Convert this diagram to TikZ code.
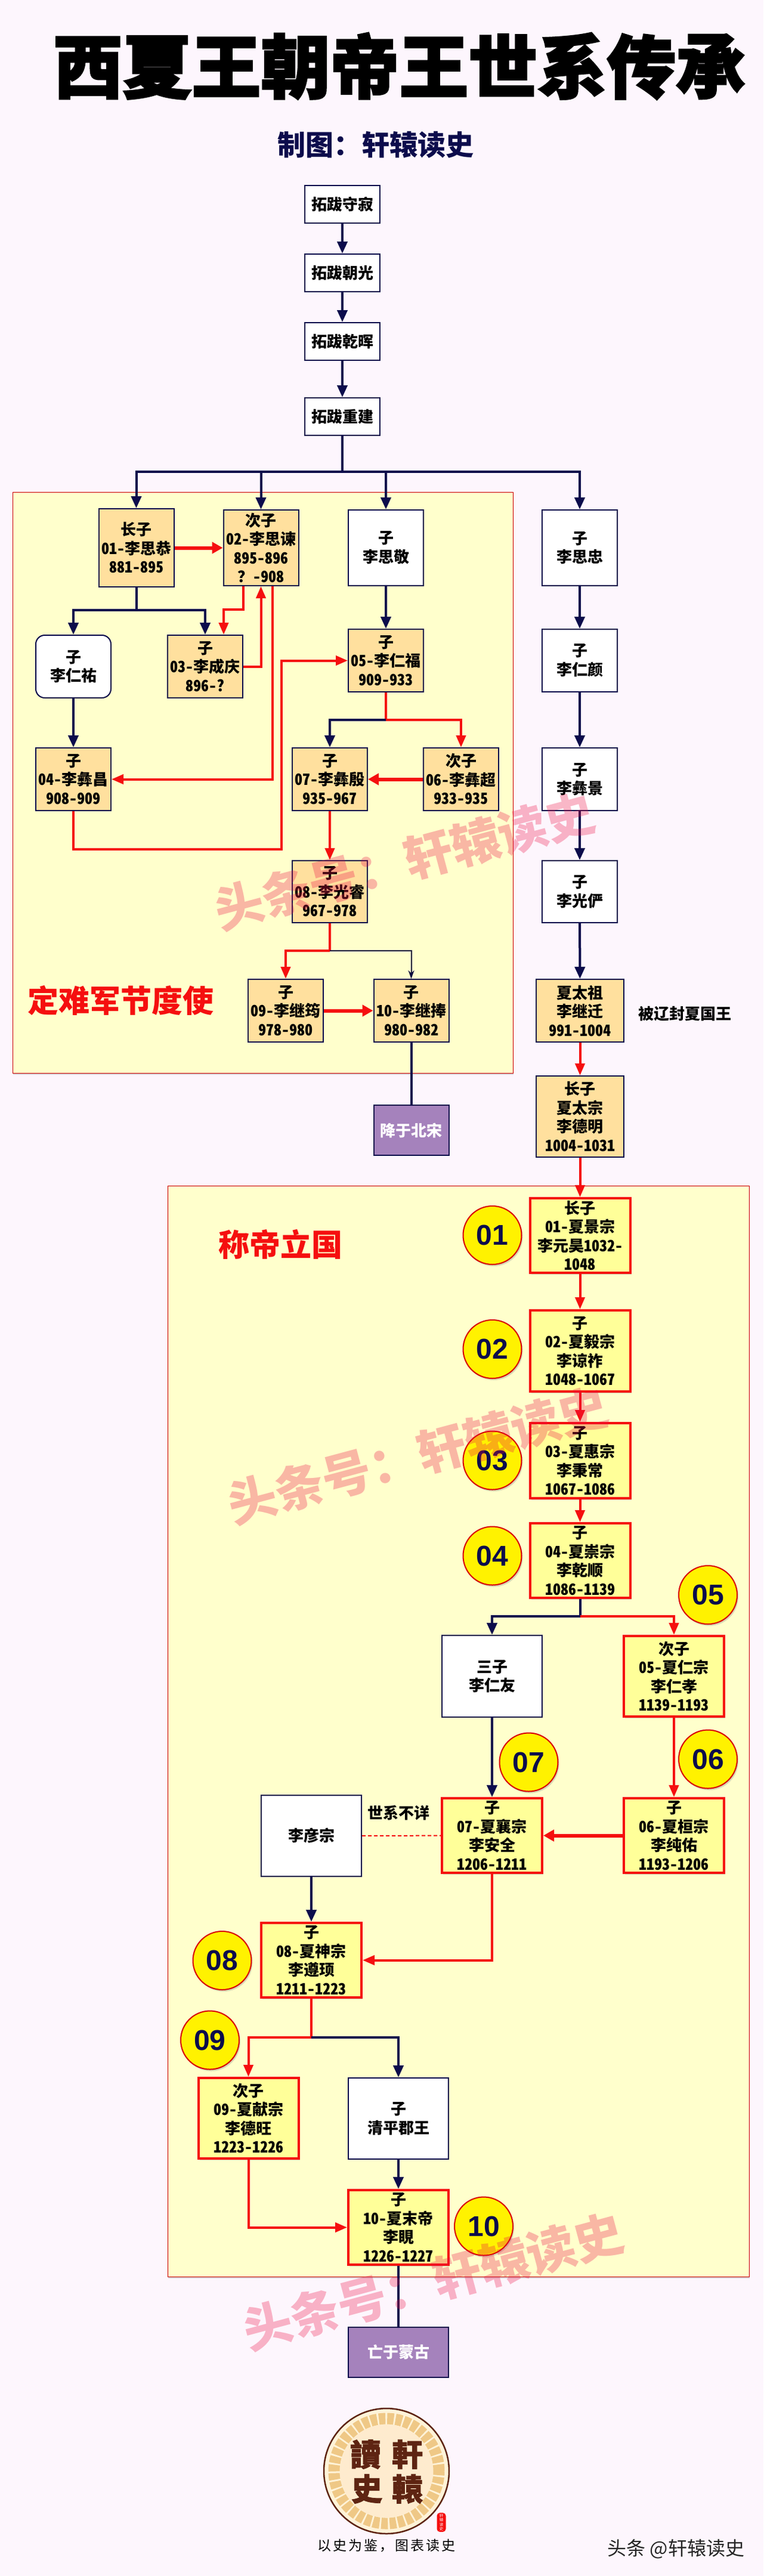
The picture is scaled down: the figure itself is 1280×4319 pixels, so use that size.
\documentclass[tikz,border=0pt]{standalone}
\usepackage{fontspec}
\setmainfont{Noto Sans CJK SC}
\newfontfamily\boxfont[RawFeature=+hwid]{Noto Sans CJK SC}
\newfontfamily\titlefont[BoldFeatures={FakeBold=2.5}]{Noto Sans CJK SC}
\newfontfamily\numfont{Liberation Sans}
\newfontfamily\oldfont[BoldFeatures={FakeBold=1.5}]{Noto Sans CJK TC}
\usepackage{tikz}
\usetikzlibrary{arrows.meta}
\usetikzlibrary{shadows}
\definecolor{pagec}{HTML}{FDF6FD}
\definecolor{panelc}{HTML}{FFFFCC}
\definecolor{lordc}{HTML}{FFE09E}
\definecolor{empc}{HTML}{FFFF99}
\definecolor{navyc}{HTML}{0C0C4C}
\definecolor{purplec}{HTML}{A582BC}
\definecolor{redc}{HTML}{F50F0F}
\definecolor{brownc}{HTML}{5E2412}
\tikzstyle{lbl}=[inner sep=0pt, font=\boxfont\bfseries\fontsize{26}{31.5}\selectfont, align=center]
\tikzstyle{bx}=[lbl, rectangle, draw=navyc, line width=2pt, minimum width=126pt]
\tikzstyle{kin}=[bx, fill=white]
\tikzstyle{lord}=[bx, fill=lordc]
\tikzstyle{emp}=[bx, draw=redc, line width=4pt, minimum width=168pt, fill=empc, drop shadow={shadow xshift=2pt, shadow yshift=-3pt, opacity=0.3}]
\tikzstyle{endbox}=[bx, fill=purplec, text=white]
\tikzstyle{panel}=[rectangle, draw=red!80!black, line width=1pt, fill=panelc, drop shadow={shadow xshift=1pt, shadow yshift=-3pt, opacity=0.3}]
\tikzstyle{num}=[circle, draw=red!85!black, line width=2pt, fill=yellow, text=navyc, inner sep=0pt, minimum size=98pt, font=\numfont\bfseries\fontsize{48}{48}\selectfont, drop shadow={shadow xshift=2pt, shadow yshift=-3pt, opacity=0.3}]
\tikzstyle{head}=[inner sep=0pt, text=redc, font=\bfseries\fontsize{52}{52}\selectfont]
\tikzstyle{wmark}=[inner sep=0pt, rotate=15, text=magenta!35!red, text opacity=0.3, font=\bfseries\fontsize{82}{82}\selectfont]
\tikzstyle{seal}=[inner sep=0pt, text=brownc, font=\oldfont\bfseries\fontsize{52}{52}\selectfont]
\tikzstyle{navy}=[draw=navyc, line width=4pt, -{Triangle[length=20pt, width=17pt]}]
\tikzstyle{navyline}=[draw=navyc, line width=4pt]
\tikzstyle{blood}=[draw=redc, line width=4pt, -{Triangle[length=20pt, width=16pt]}]
\tikzstyle{bloodline}=[draw=redc, line width=4pt]
\tikzstyle{pass}=[draw=redc, line width=6pt, -{Triangle[length=18pt, width=19pt]}]
\tikzset{high/.style={minimum height=#1pt}}
\begin{document}
\begin{tikzpicture}[x=1pt, y=-1pt]
	\useasboundingbox (0,0) rectangle (1280,4319);
	\fill[pagec] (0,0) rectangle (1280,4319);
	
	%The titles
	\draw (669.5,111) node[inner sep=0pt, font=\titlefont\bfseries\fontsize{116}{116}\selectfont] (title) {西夏王朝帝王世系传承};
	\draw (630,243) node[inner sep=0pt, text=navyc, font=\bfseries\fontsize{47}{47}\selectfont] (credit) {制图：轩辕读史};
	
	%The two panels
	\draw (440.5,1312) node[panel, minimum width=839pt, minimum height=974pt] (panelA) {};
	\draw (768.5,2902.5) node[panel, minimum width=975pt, minimum height=1829pt] (panelB) {};
	\draw (202,1677) node[head] (headA) {定难军节度使};
	\draw (470.5,2086) node[head] (headB) {称帝立国};
	
	%The Tuoba forefathers
	\draw (574,342.5) node[kin, high=63] (zu1) {拓跋守寂};
	\draw (574,457.5) node[kin, high=63] (zu2) {拓跋朝光};
	\draw (574,572.5) node[kin, high=63] (zu3) {拓跋乾晖};
	\draw (574,698.5) node[kin, high=63] (zu4) {拓跋重建};
	
	%The military governors
	\draw (228.5,918.5) node[lord, high=131] (gov1) {长子\\01-李思恭\\881-895};
	\draw (437.5,918.5) node[lord, high=127] (gov2) {次子\\02-李思谏\\895-896\\？-908};
	\draw (344,1117.5) node[lord, high=105] (gov3) {子\\03-李成庆\\896-?};
	\draw (123,1306.5) node[lord, high=105] (gov4) {子\\04-李彝昌\\908-909};
	\draw (647,1107.5) node[lord, high=105] (gov5) {子\\05-李仁福\\909-933};
	\draw (773,1306.5) node[lord, high=105] (gov6) {次子\\06-李彝超\\933-935};
	\draw (553,1306.5) node[lord, high=105] (gov7) {子\\07-李彝殷\\935-967};
	\draw (553,1495) node[lord, high=104] (gov8) {子\\08-李光睿\\967-978};
	\draw (479,1694.5) node[lord, high=105] (gov9) {子\\09-李继筠\\978-980};
	\draw (689.5,1694.5) node[lord, high=105] (gov10) {子\\10-李继捧\\980-982};
	\draw (689.5,1895) node[endbox, high=84] (song) {降于北宋};
	
	%The sons who did not rule
	\draw (123,1117.5) node[kin, rounded corners=15pt, high=105] (youren) {子\\李仁祐};
	\draw (647,918.5) node[kin, high=127] (sijing) {子\\李思敬};
	\draw (972,918.5) node[kin, high=127] (sizhong) {子\\李思忠};
	\draw (972,1107.5) node[kin, high=105] (renyan) {子\\李仁颜};
	\draw (972,1306.5) node[kin, high=105] (yijing) {子\\李彝景};
	\draw (972,1495) node[kin, high=104] (guangyan) {子\\李光俨};
	
	%The founders
	\draw (972.5,1694.5) node[lord, minimum width=147pt, high=105] (taizu) {夏太祖\\李继迁\\991-1004};
	\draw (972.5,1872) node[lord, minimum width=147pt, high=136] (taizong) {长子\\夏太宗\\李德明\\1004-1031};
	\draw (1148,1700) node[lbl] (liao) {被辽封夏国王};
	
	%The emperors
	\draw (972.5,2071.5) node[emp, high=125] (emp1) {长子\\01-夏景宗\\李元昊1032-\\1048};
	\draw (972.5,2265) node[emp, high=136] (emp2) {子\\02-夏毅宗\\李谅祚\\1048-1067};
	\draw (972.5,2449) node[emp, high=126] (emp3) {子\\03-夏惠宗\\李秉常\\1067-1086};
	\draw (972.5,2616.5) node[emp, high=125] (emp4) {子\\04-夏崇宗\\李乾顺\\1086-1139};
	\draw (1130,2810.5) node[emp, high=135] (emp5) {次子\\05-夏仁宗\\李仁孝\\1139-1193};
	\draw (1130,3077.5) node[emp, high=125] (emp6) {子\\06-夏桓宗\\李纯佑\\1193-1206};
	\draw (825,3077.5) node[emp, high=125] (emp7) {子\\07-夏襄宗\\李安全\\1206-1211};
	\draw (522,3286.5) node[emp, high=125] (emp8) {子\\08-夏神宗\\李遵顼\\1211-1223};
	\draw (416.5,3551.5) node[emp, high=135] (emp9) {次子\\09-夏献宗\\李德旺\\1223-1226};
	\draw (668,3734.5) node[emp, high=125] (emp10) {子\\10-夏末帝\\李睍\\1226-1227};
	\draw (825,2810.5) node[kin, minimum width=168pt, high=137] (renyou) {三子\\李仁友};
	\draw (522,3078) node[kin, minimum width=168pt, high=136] (yanzong) {李彦宗};
	\draw (668,3552) node[kin, minimum width=168pt, high=136] (qingping) {子\\清平郡王};
	\draw (668,3944) node[endbox, minimum width=168pt, high=84] (meng) {亡于蒙古};
	\draw (668,3039) node[lbl] (unknown) {世系不详};
	
	%The reign numbers
	\draw (825.5,2071) node[num] (n1) {01};
	\draw (825.5,2262) node[num] (n2) {02};
	\draw (825.5,2448.5) node[num] (n3) {03};
	\draw (825.5,2608.5) node[num] (n4) {04};
	\draw (1187,2674) node[num] (n5) {05};
	\draw (1187,2949.5) node[num] (n6) {06};
	\draw (886.5,2954.5) node[num] (n7) {07};
	\draw (372.5,3287) node[num] (n8) {08};
	\draw (352,3420.5) node[num] (n9) {09};
	\draw (811,3732.5) node[num] (n10) {10};
	
	%The junctions of the branches
	\coordinate (busA) at (574,791);
	\coordinate (busB) at (228.5,1023);
	\coordinate (busC) at (647,1207);
	\coordinate (busD) at (553,1594);
	\coordinate (busE) at (972.5,2710);
	\coordinate (busF) at (522,3416);
	\coordinate (kink) at (375,1022);
	\coordinate (turn) at (472,1424);
	
	%The forefathers and their sons
	\draw[navy] (zu1) -- (zu2);
	\draw[navy] (zu2) -- (zu3);
	\draw[navy] (zu3) -- (zu4);
	\draw[navyline] (zu4) -- (busA);
	\draw[navy] (busA) -| (gov1.north);
	\draw[navy] (busA) -| (gov2.north);
	\draw[navy] (busA) -| (sijing.north);
	\draw[navy] (busA) -| (sizhong.north);
	\draw[navy] (sijing) -- (gov5);
	\draw[navy] (sizhong) -- (renyan);
	\draw[navy] (renyan) -- (yijing);
	\draw[navy] (yijing) -- (guangyan);
	\draw[navy] (guangyan) -- (taizu);
	\draw[navy] (youren) -- (gov4);
	
	%The first governors
	\draw[navyline] (gov1) -- (busB);
	\draw[navy] (busB) -| (youren.north);
	\draw[navy] (busB) -| (gov3.north);
	\draw[pass] (gov1) -- (gov2);
	\draw[blood] (gov2.south -| gov3.east) |- (kink) -- (kink |- gov3.north);
	\draw[blood] (gov3) -| (gov2.south);
	\draw[blood] ([xshift=19.5pt]gov2.south) |- (gov4);
	\draw[blood] (gov4) |- (turn) |- (gov5);
	
	%The later governors
	\draw[bloodline] (gov5) -- (busC);
	\draw[navy] (busC) -| (gov7.north);
	\draw[blood] (busC) -| (gov6.north);
	\draw[pass] (gov6) -- (gov7);
	\draw[blood] (gov7) -- (gov8);
	\draw[bloodline] (gov8) -- (busD);
	\draw[blood] (busD) -| (gov9.north);
	\draw[draw=navyc!80!black, line width=2pt, -{Stealth[length=14pt, width=10pt]}] (busD) -| (gov10.north);
	\draw[pass] (gov9) -- (gov10);
	\draw[navyline] (gov10) -- (song);
	
	%The emperors' line
	\draw[blood] (taizu) -- (taizong);
	\draw[blood] (taizong) -- (emp1);
	\draw[blood] (emp1) -- (emp2);
	\draw[blood] (emp2) -- (emp3);
	\draw[blood] (emp3) -- (emp4);
	\draw[navyline] (emp4) -- (busE);
	\draw[navy] (busE) -| (renyou.north);
	\draw[blood] (busE) -| (emp5.north);
	\draw[blood] (emp5) -- (emp6);
	\draw[navy] (renyou) -- (emp7);
	\draw[pass] (emp6) -- (emp7);
	\draw[draw=redc, line width=2pt, dash pattern=on 6pt off 4pt] (yanzong) -- (emp7);
	\draw[navy] (yanzong) -- (emp8);
	\draw[blood] (emp7) |- (emp8);
	\draw[bloodline] (emp8) -- (busF);
	\draw[blood] (busF) -| (emp9.north);
	\draw[navy] (busF) -| (qingping.north);
	\draw[navy] (qingping) -- (emp10);
	\draw[blood] (emp9) |- (emp10);
	\draw[navyline] (emp10) -- (meng);
	
	%The logo
	\draw (648,4143) node[circle, draw=brownc, line width=2.5pt, fill=white!60!lordc, inner sep=0pt, minimum size=210pt] (disc) {};
	\draw (648,4143) node[circle, draw=lordc!75!brown, line width=19pt, dash pattern=on 11pt off 3pt, inner sep=0pt, minimum size=176pt] (scroll) {};
	\draw (648,4143) node[circle, fill=lordc!50!pagec, inner sep=0pt, minimum size=156pt] (inner) {};
	\draw (613,4115) node[seal] (c1) {讀};
	\draw (683,4115) node[seal] (c2) {軒};
	\draw (615,4173) node[seal] (c3) {史};
	\draw (683,4173) node[seal] (c4) {轅};
	\draw (740,4229) node[rectangle, rounded corners=5pt, fill=redc, text=white, inner sep=0pt, minimum width=15pt, minimum height=32pt, align=center, font=\fontsize{6.5}{7.5}\selectfont] (stamp) {轩\\辕\\读\\史};
	\draw (648,4268) node[inner sep=0pt, font=\fontsize{23}{23}\selectfont\addfontfeature{LetterSpace=13}] (motto) {以史为鉴，图表读史};
	\draw (1133.5,4274) node[inner sep=0pt, text=black!85, font=\fontsize{32}{32}\selectfont] (byline) {头条 @轩辕读史};
	
	%The watermarks
	\draw (678,1444) node[wmark] (wm1) {头条号：轩辕读史};
	\draw (700,2440) node[wmark] (wm2) {头条号：轩辕读史};
	\draw (726,3825) node[wmark] (wm3) {头条号：轩辕读史};
\end{tikzpicture}
\end{document}
